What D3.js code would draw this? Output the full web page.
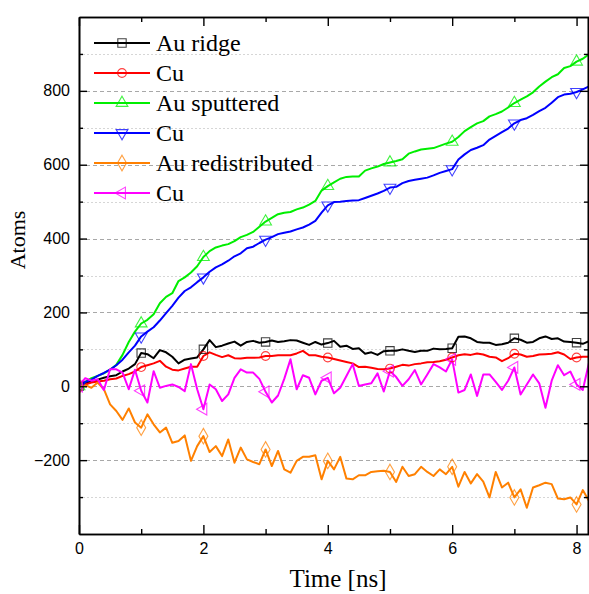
<!DOCTYPE html>
<html>
<head>
<meta charset="utf-8">
<script src="https://cdn.jsdelivr.net/npm/d3@7/dist/d3.min.js"></script>
<style>
  html, body { margin: 0; padding: 0; background: #ffffff; }
  svg { display: block; }
</style>
</head>
<body>
<script>
// ---------- DATA ----------
const time = [0.0,0.1,0.2,0.3,0.4,0.5,0.6,0.7,0.8,0.9,
  1.0,1.1,1.2,1.3,1.4,1.5,1.6,1.7,1.8,1.9,
  2.0,2.1,2.2,2.3,2.4,2.5,2.6,2.7,2.8,2.9,
  3.0,3.1,3.2,3.3,3.4,3.5,3.6,3.7,3.8,3.9,
  4.0,4.1,4.2,4.3,4.4,4.5,4.6,4.7,4.8,4.9,
  5.0,5.1,5.2,5.3,5.4,5.5,5.6,5.7,5.8,5.9,
  6.0,6.1,6.2,6.3,6.4,6.5,6.6,6.7,6.8,6.9,
  7.0,7.1,7.2,7.3,7.4,7.5,7.6,7.7,7.8,7.9,
  8.0,8.1,8.2];

const auRidge = [0,8,14,18,23,27,30,40,48,60,
  90,87,76,98,92,80,62,72,75,78,
  100,125,106,110,116,121,110,120,123,118,
  120,124,120,122,125,124,118,112,120,113,
  117,123,107,110,101,103,88,92,85,95,
  96,96,100,96,93,96,96,102,100,101,
  103,134,135,130,120,118,118,112,114,118,
  130,126,118,120,130,135,128,130,121,120,
  118,115,122];

const cuRidge = [0,5,10,13,15,19,21,28,33,40,
  52,57,62,69,53,45,43,48,53,53,
  82,92,85,79,84,76,75,77,77,78,
  82,82,84,84,84,89,96,84,84,80,
  78,74,70,66,62,52,53,50,47,46,
  48,53,58,56,60,62,65,66,68,72,
  78,84,87,85,89,86,80,78,68,76,
  88,86,80,82,86,87,88,92,86,74,
  78,80,80];

const auSputtered = [0,12,22,28,35,45,58,85,120,148,
  170,180,195,225,242,252,285,295,308,325,
  350,366,376,381,385,393,404,410,418,432,
  446,456,466,470,472,479,484,492,502,530,
  542,552,562,567,568,568,584,590,595,602,
  606,610,615,630,636,641,643,645,651,657,
  662,675,691,702,712,718,731,737,744,755,
  767,776,785,796,812,825,837,845,862,867,
  879,887,899];

const cuSputtered = [0,12,18,28,36,45,57,72,92,110,
  135,148,160,178,198,218,240,258,268,282,
  295,310,322,330,340,352,360,374,378,388,
  397,404,412,416,419,425,430,438,448,470,
  490,499,500,502,503,504,510,516,522,529,
  538,540,550,556,559,562,565,571,578,583,
  588,614,628,640,646,653,668,678,688,698,
  712,721,726,735,745,754,768,783,790,792,
  797,804,812];

const auRedistributed = [0,3,-4,10,-8,-49,-67,-91,-60,-98,
  -112,-76,-103,-125,-112,-153,-148,-133,-202,-162,
  -135,-178,-162,-189,-144,-207,-166,-198,-205,-211,
  -171,-216,-175,-225,-234,-202,-191,-191,-187,-252,
  -202,-225,-191,-250,-252,-241,-241,-232,-230,-229,
  -232,-259,-218,-243,-238,-218,-232,-243,-225,-238,
  -218,-272,-232,-263,-238,-258,-301,-232,-274,-261,
  -301,-279,-329,-274,-268,-261,-265,-304,-306,-301,
  -320,-281,-311];

const cuRedistributed = [0,22,15,19,-10,46,46,37,-8,45,
  -12,-44,41,-4,1,5,-2,-13,60,-8,
  -62,5,-8,-40,-22,23,46,37,37,20,
  -15,-44,-25,20,73,-8,30,23,-22,15,
  23,-19,-4,28,60,1,5,8,35,-14,
  41,25,1,19,44,5,32,60,51,40,
  73,-17,-10,32,-26,32,32,12,-10,15,
  51,-22,5,32,8,-58,15,57,30,40,
  5,-10,64];

const seriesNames = ["Au ridge","Cu","Au sputtered","Cu","Au redistributed","Cu"];
const seriesValues = [auRidge, cuRidge, auSputtered, cuSputtered, auRedistributed, cuRedistributed];
const seriesColors = ["#000000","#ff0000","#00ee00","#0000ff","#ff8000","#ff00ff"];
const seriesMarkers = ["square","circle","triangleUp","triangleDown","diamond","triangleLeft"];
const markerTimes = [0,1,2,3,4,5,6,7,8];

const xMajorTicks = [0,2,4,6,8];
const xMinorTicks = [1,3,5,7];
const yMajorTicks = [-200,0,200,400,600,800];
const yMinorTicks = [-300,-100,100,300,500,700,900];

// ---------- LAYOUT ----------
const W = 589, H = 594;
const pLeft = 79, pRight = 589, pTop = 17, pBottom = 534;

const svg = d3.select("body").append("svg")
  .attr("width", W).attr("height", H)
  .style("background", "#ffffff");

const x = d3.scaleLinear().domain([0, 8.2]).range([pLeft, pRight]);
const y = d3.scaleLinear().domain([-400, 1000]).range([pBottom, pTop]);

// grid lines
svg.append("g").selectAll("line").data(yMajorTicks).join("line")
  .attr("x1", pLeft).attr("x2", pRight)
  .attr("y1", d => Math.round(y(d)) + 0.5).attr("y2", d => Math.round(y(d)) + 0.5)
  .attr("stroke", "#a8a8a8").attr("stroke-width", 1).attr("stroke-dasharray", "4,3");
svg.append("g").selectAll("line").data(yMinorTicks).join("line")
  .attr("x1", pLeft).attr("x2", pRight)
  .attr("y1", d => Math.round(y(d)) + 0.5).attr("y2", d => Math.round(y(d)) + 0.5)
  .attr("stroke", "#d6d6d6").attr("stroke-width", 1).attr("stroke-dasharray", "2,2");

// series lines
svg.append("clipPath").attr("id", "plotclip")
  .append("rect").attr("x", pLeft).attr("y", pTop).attr("width", pRight - pLeft).attr("height", pBottom - pTop);

const lineGen = d3.line().x((d, i) => x(time[i])).y(d => y(d));
const plot = svg.append("g").attr("clip-path", "url(#plotclip)");

function symbolPath(kind) {
  const sizes = {square: 70, circle: 60, triangleUp: 60, triangleDown: 60, diamond: 70, triangleLeft: 60};
  let t = d3.symbolSquare;
  if (kind === "circle") t = d3.symbolCircle;
  else if (kind.startsWith("triangle")) t = d3.symbolTriangle;
  else if (kind === "diamond") t = d3.symbolDiamond;
  return d3.symbol().type(t).size(sizes[kind])();
}
function symbolRotate(kind) {
  if (kind === "triangleDown") return 180;
  if (kind === "triangleLeft") return -90;
  return 0;
}

seriesValues.forEach((vals, k) => {
  plot.append("path").datum(vals)
    .attr("d", lineGen)
    .attr("fill", "none")
    .attr("stroke", seriesColors[k])
    .attr("stroke-width", 2)
    .attr("stroke-linejoin", "round");
});
seriesValues.forEach((vals, k) => {
  const pts = markerTimes.map(t => ({t: t, v: vals[time.findIndex(tt => Math.abs(tt - t) < 1e-9)]}));
  plot.append("g").selectAll("path").data(pts).join("path")
    .attr("d", symbolPath(seriesMarkers[k]))
    .attr("transform", d => `translate(${x(d.t)},${y(d.v)}) rotate(${symbolRotate(seriesMarkers[k])})`)
    .attr("fill", "none")
    .attr("stroke", seriesColors[k])
    .attr("stroke-opacity", 0.75)
    .attr("stroke-width", 1.1);
});

// axes
const axisStyle = g => {
  g.select(".domain").attr("stroke", "#000").attr("stroke-width", 1.6);
  g.selectAll(".tick line").attr("stroke", "#000").attr("stroke-width", 1.4);
  g.selectAll(".tick text").attr("font-family", "'Liberation Sans', Arial, sans-serif")
    .attr("font-size", 16).attr("fill", "#000");
};

svg.append("g").attr("transform", `translate(0,${pBottom})`)
  .call(d3.axisBottom(x).tickValues(xMajorTicks).tickFormat(d3.format("d"))
    .tickSize(-9).tickSizeOuter(0).tickPadding(9))
  .call(axisStyle);
svg.append("g").attr("transform", `translate(0,${pBottom})`)
  .call(d3.axisBottom(x).tickValues(xMinorTicks).tickFormat("").tickSize(-5).tickSizeOuter(0))
  .call(axisStyle);
svg.append("g").attr("transform", `translate(0,${pTop})`)
  .call(d3.axisTop(x).tickValues(xMajorTicks).tickFormat("").tickSize(-9).tickSizeOuter(0))
  .call(axisStyle);
svg.append("g").attr("transform", `translate(0,${pTop})`)
  .call(d3.axisTop(x).tickValues(xMinorTicks).tickFormat("").tickSize(-5).tickSizeOuter(0))
  .call(axisStyle);

svg.append("g").attr("transform", `translate(${pLeft},0)`)
  .call(d3.axisLeft(y).tickValues(yMajorTicks).tickFormat(d3.format("d"))
    .tickSize(-8).tickSizeOuter(0).tickPadding(9))
  .call(axisStyle);
svg.append("g").attr("transform", `translate(${pLeft},0)`)
  .call(d3.axisLeft(y).tickValues(yMinorTicks).tickFormat("").tickSize(-4).tickSizeOuter(0))
  .call(axisStyle);
svg.append("g").attr("transform", `translate(${pRight - 1},0)`)
  .call(d3.axisRight(y).tickValues(yMajorTicks).tickFormat("").tickSize(-8).tickSizeOuter(0))
  .call(axisStyle);
svg.append("g").attr("transform", `translate(${pRight - 1},0)`)
  .call(d3.axisRight(y).tickValues(yMinorTicks).tickFormat("").tickSize(-4).tickSizeOuter(0))
  .call(axisStyle);

// axis titles
svg.append("text")
  .attr("x", 338).attr("y", 587)
  .attr("text-anchor", "middle")
  .attr("font-family", "'Liberation Serif', 'Times New Roman', serif")
  .attr("font-size", 25).attr("fill", "#000")
  .text("Time [ns]");
svg.append("text")
  .attr("transform", "translate(25,240) rotate(-90)")
  .attr("text-anchor", "middle")
  .attr("font-family", "'Liberation Serif', 'Times New Roman', serif")
  .attr("font-size", 22).attr("fill", "#000")
  .text("Atoms");

// legend
const legendRows = [43, 73, 103, 133, 163, 193];
const legend = svg.append("g");
seriesNames.forEach((name, k) => {
  const ry = legendRows[k];
  legend.append("line").attr("x1", 94).attr("x2", 150).attr("y1", ry).attr("y2", ry)
    .attr("stroke", seriesColors[k]).attr("stroke-width", 2);
  legend.append("path").attr("d", symbolPath(seriesMarkers[k]))
    .attr("transform", `translate(122,${ry}) rotate(${symbolRotate(seriesMarkers[k])})`)
    .attr("fill", "none").attr("stroke", seriesColors[k])
    .attr("stroke-opacity", 0.75).attr("stroke-width", 1.1);
  legend.append("text").attr("x", 156).attr("y", ry + 8)
    .attr("font-family", "'Liberation Serif', 'Times New Roman', serif")
    .attr("font-size", 24).attr("fill", "#000")
    .text(name);
});
</script>
</body>
</html>
